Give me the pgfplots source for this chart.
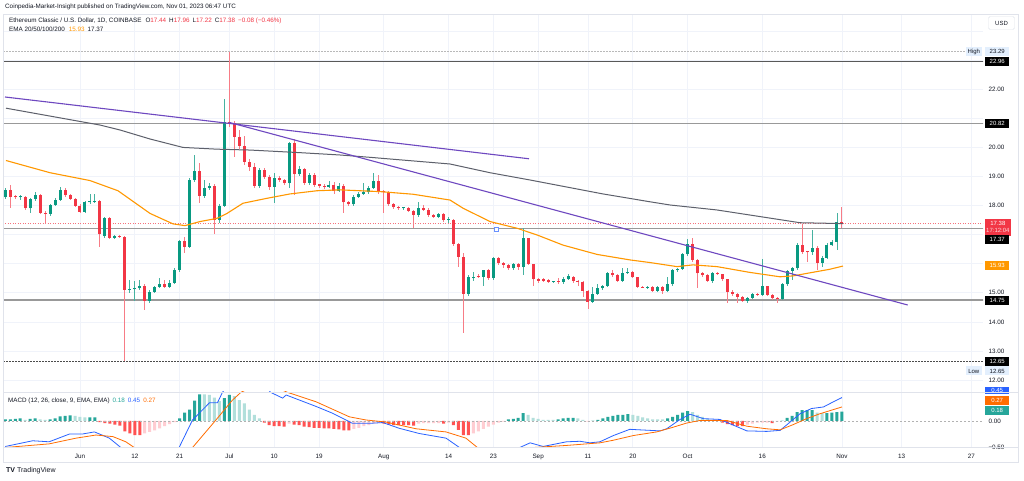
\documentclass[border=0pt]{standalone}
\usepackage{pgfplots}
\pgfplotsset{compat=1.18}
\usepackage{pgfplotstable}
\usepackage{fontspec}
\setmainfont{Liberation Sans}

\definecolor{upc}{HTML}{089981}
\definecolor{dnc}{HTML}{F23645}
\definecolor{hup}{HTML}{26A69A}
\definecolor{hupl}{HTML}{B2DFDB}
\definecolor{hdn}{HTML}{FF5252}
\definecolor{hdnl}{HTML}{FFCDD2}
\definecolor{macdblue}{HTML}{2962FF}
\definecolor{sigorange}{HTML}{FF6D00}
\definecolor{emaor}{HTML}{FF9800}
\definecolor{emagr}{HTML}{5D606B}
\definecolor{trend}{HTML}{6E48C0}
\definecolor{txt}{HTML}{131722}
\definecolor{gridc}{HTML}{F0F3FA}
\definecolor{framec}{HTML}{E0E3EB}
\definecolor{hlbg}{HTML}{E3EFFD}

% day index: 0 = 1 June 2023; rising candles (close >= open)
\pgfplotstableread{
d o h l c
-15 18.28 18.60 18.22 18.54
-12 18.28 18.36 18.20 18.31
-10 17.90 18.25 17.76 18.22
-9 18.22 18.45 18.15 18.36
-6 17.71 18.05 17.65 18.02
-5 18.02 18.25 17.98 18.19
-4 18.19 18.65 18.15 18.54
1 17.79 18.15 17.75 18.11
2 18.11 18.39 18.07 18.13
3 18.13 18.39 18.08 18.17
5 16.95 17.62 16.90 17.56
7 16.90 17.00 16.86 16.95
10 15.10 15.44 14.98 15.12
11 15.12 15.40 14.73 15.15
12 15.15 15.45 15.10 15.23
14 14.73 15.10 14.65 15.04
15 15.04 15.25 15.00 15.21
16 15.21 15.50 15.18 15.29
18 15.21 15.45 15.15 15.35
19 15.35 15.85 15.30 15.80
20 15.80 16.80 15.72 16.78
22 16.59 18.95 16.55 18.88
23 18.88 19.74 18.80 19.20
25 18.33 18.88 18.25 18.62
26 18.62 18.78 18.55 18.69
28 17.50 18.05 17.40 18.00
29 18.00 21.65 17.95 20.89
36 18.69 19.30 18.60 19.22
39 18.65 19.11 18.08 18.94
42 18.77 20.20 18.59 20.16
44 19.07 19.35 19.00 19.25
46 18.79 19.12 18.72 19.05
50 18.65 18.85 18.60 18.71
52 18.51 18.78 18.45 18.69
55 18.04 18.35 18.00 18.31
56 18.31 18.45 18.28 18.40
57 18.40 18.79 18.36 18.45
58 18.45 18.68 18.40 18.62
59 18.62 19.11 18.58 18.85
65 17.90 17.95 17.86 17.91
68 17.68 18.11 17.62 17.91
72 17.62 17.75 17.58 17.71
74 17.50 17.62 17.40 17.52
78 14.96 15.61 14.90 15.53
79 15.50 15.70 15.40 15.56
81 15.55 15.80 15.25 15.78
83 15.50 16.23 15.45 16.19
87 15.84 16.02 15.80 15.99
89 15.88 17.22 15.60 16.87
95 15.38 15.42 15.34 15.39
97 15.38 15.55 15.30 15.46
98 15.46 15.63 15.44 15.58
103 14.70 15.21 14.65 14.96
104 14.96 15.30 14.93 15.15
105 15.15 15.28 15.10 15.23
106 15.23 15.72 15.20 15.67
109 15.42 15.84 15.38 15.67
110 15.67 15.84 15.64 15.72
114 15.18 15.22 15.14 15.19
116 15.07 15.25 15.04 15.21
118 15.07 15.55 15.04 15.30
119 15.30 15.82 15.25 15.78
120 15.78 15.86 15.72 15.81
121 15.81 16.36 15.78 16.32
122 16.32 16.84 16.28 16.68
127 15.42 15.72 15.35 15.67
134 14.73 14.87 14.65 14.83
135 14.83 15.00 14.80 14.96
137 14.93 16.15 14.90 15.23
141 14.78 15.32 14.75 15.29
142 15.29 15.78 15.25 15.75
143 15.75 15.88 15.45 15.84
144 15.84 16.70 15.80 16.64
147 16.39 17.16 16.30 16.55
149 16.04 16.25 15.90 16.21
150 16.21 16.70 16.15 16.64
151 16.64 16.80 16.60 16.76
152 16.76 17.73 16.47 17.45
}\cdup

% falling candles (close < open)
\pgfplotstableread{
d o h l c
-14 18.54 18.71 17.90 18.31
-13 18.31 18.36 18.22 18.28
-11 18.31 18.34 17.85 17.90
-8 18.36 18.40 17.72 17.76
-7 17.76 17.80 17.37 17.71
-3 18.54 18.60 18.30 18.36
-2 18.36 18.40 18.18 18.23
-1 18.23 18.27 17.96 18.00
0 18.00 18.05 17.73 17.79
4 18.17 18.20 16.59 17.01
6 17.56 17.60 16.85 16.90
8 16.95 17.00 16.88 16.93
9 16.93 16.95 12.65 15.10
13 15.23 15.30 14.41 14.73
17 15.29 15.45 15.15 15.21
21 16.78 16.93 16.36 16.59
24 19.20 19.48 18.08 18.33
27 18.69 18.75 17.01 17.50
30 20.89 23.29 20.70 20.85
31 20.85 20.90 19.68 20.37
32 20.37 20.60 19.95 20.05
33 20.05 20.40 19.40 19.51
34 19.51 19.60 19.20 19.34
35 19.34 19.45 18.59 18.69
37 19.22 19.30 18.90 18.97
38 18.97 19.05 18.55 18.65
40 18.94 19.00 18.82 18.88
41 18.88 18.92 18.71 18.77
43 20.16 20.30 18.37 19.07
45 19.25 19.30 18.70 18.79
47 19.05 19.11 18.65 18.71
48 18.71 18.75 18.62 18.69
49 18.69 18.75 18.58 18.65
51 18.71 18.80 18.40 18.51
53 18.69 18.75 17.76 18.11
54 18.11 18.15 17.98 18.04
60 18.85 19.05 18.40 18.48
61 18.48 18.55 17.76 18.46
62 18.46 18.50 18.00 18.04
63 18.04 18.08 17.88 17.94
64 17.94 17.98 17.85 17.90
66 17.91 17.95 17.78 17.83
67 17.83 17.85 17.22 17.68
69 17.91 18.02 17.80 17.85
70 17.85 17.90 17.62 17.68
71 17.68 17.72 17.58 17.62
73 17.71 17.75 17.45 17.50
75 17.52 17.55 16.60 16.68
76 16.68 16.70 15.90 16.24
77 16.24 16.36 13.61 14.96
80 15.56 15.65 15.50 15.55
82 15.78 15.82 15.45 15.50
84 16.19 16.22 15.95 16.04
85 16.04 16.07 15.85 15.96
86 15.96 16.00 15.78 15.84
88 15.99 16.02 15.80 15.88
90 16.87 16.89 15.95 15.99
91 15.99 16.00 15.25 15.47
92 15.47 15.52 15.35 15.41
93 15.46 15.50 15.38 15.42
94 15.44 15.48 15.32 15.38
96 15.39 15.50 15.30 15.38
99 15.56 15.58 15.35 15.41
100 15.41 15.43 15.25 15.38
101 15.38 15.40 14.85 15.07
102 15.07 15.10 14.43 14.70
107 15.67 15.80 15.55 15.61
108 15.61 15.65 15.38 15.42
111 15.72 15.76 15.50 15.53
112 15.53 15.55 15.18 15.21
113 15.21 15.25 15.15 15.18
115 15.21 15.24 15.04 15.07
117 15.21 15.24 14.96 15.07
123 16.68 16.87 16.05 16.13
124 16.13 16.15 15.15 15.67
125 15.67 15.70 15.55 15.61
126 15.61 15.65 15.38 15.42
128 15.67 15.72 15.60 15.64
129 15.64 15.66 15.42 15.47
130 15.47 15.49 14.64 15.04
131 15.04 15.08 14.90 14.96
132 14.96 15.00 14.64 14.87
133 14.87 14.90 14.68 14.73
136 14.96 15.00 14.88 14.93
138 15.23 15.25 14.88 14.93
139 14.93 14.95 14.76 14.81
140 14.81 14.84 14.64 14.78
145 16.64 17.36 16.35 16.41
146 16.41 16.45 16.07 16.39
148 16.55 16.60 15.80 16.04
153 17.44 17.96 17.22 17.38
}\cddn

% MACD histogram: growing above zero, falling above zero, growing below zero, shrinking below zero
\pgfplotstableread{
d v
-15 0.03
-14 0.03
-13 0.04
-12 0.05
-10 0.04
-9 0.05
-6 0.03
-5 0.05
-4 0.09
-3 0.10
-2 0.11
2 0.07
3 0.07
20 0.05
21 0.16
22 0.22
23 0.39
24 0.51
29 0.44
30 0.50
86 0.03
87 0.04
88 0.06
89 0.15
96 0.03
97 0.05
98 0.06
99 0.06
104 0.02
105 0.05
106 0.08
107 0.10
108 0.12
109 0.12
110 0.13
118 0.05
119 0.08
120 0.12
121 0.16
122 0.19
142 0.06
143 0.10
144 0.17
145 0.21
146 0.21
147 0.21
150 0.15
151 0.16
152 0.17
153 0.18
}\hA
\pgfplotstableread{
d v
-11 0.02
-8 0.03
-7 0.02
-1 0.10
0 0.08
1 0.07
25 0.51
26 0.50
27 0.45
28 0.38
31 0.48
32 0.40
33 0.34
34 0.22
35 0.12
36 0.05
90 0.12
91 0.06
92 0.04
93 0.02
94 0.02
95 0.02
100 0.05
101 0.02
103 0.01
111 0.12
112 0.10
113 0.07
114 0.05
115 0.03
116 0.03
117 0.03
123 0.17
124 0.12
125 0.08
126 0.04
127 0.02
128 0.01
141 0.01
148 0.16
149 0.15
}\hB
\pgfplotstableread{
d v
4 -0.02
5 -0.04
6 -0.05
7 -0.07
8 -0.09
9 -0.20
10 -0.24
11 -0.27
12 -0.27
37 -0.03
38 -0.08
39 -0.10
40 -0.10
41 -0.11
43 -0.07
44 -0.08
45 -0.11
46 -0.12
47 -0.13
48 -0.13
49 -0.14
50 -0.14
51 -0.15
52 -0.16
53 -0.18
54 -0.18
61 -0.05
62 -0.07
63 -0.08
64 -0.08
65 -0.08
66 -0.08
67 -0.09
73 -0.05
75 -0.08
76 -0.17
77 -0.27
78 -0.27
129 -0.03
130 -0.06
131 -0.08
132 -0.10
133 -0.10
139 -0.04
}\hC
\pgfplotstableread{
d v
13 -0.24
14 -0.21
15 -0.18
16 -0.14
17 -0.10
18 -0.06
19 -0.02
42 -0.05
55 -0.15
56 -0.13
57 -0.10
58 -0.08
59 -0.05
60 -0.04
68 -0.05
69 -0.04
70 -0.04
71 -0.04
72 -0.04
74 -0.03
79 -0.24
80 -0.20
81 -0.15
82 -0.11
83 -0.07
84 -0.03
85 -0.01
102 -0.01
134 -0.07
135 -0.05
136 -0.03
137 -0.03
138 -0.03
140 -0.01
}\hD

\pgfplotsset{
  sticks/.style 2 args={only marks, mark size=0pt, mark options={draw=none, fill=none},
    error bars/y dir=both, error bars/y explicit, error bars/error mark=none,
    error bars/error bar style={draw=#1, line width=#2}},
  hbar/.style={ybar, bar width=3pt, bar shift=0pt, draw=none, fill=#1},
  tv/.style={
    scale only axis, width=979pt, clip mode=individual,
    xmin=-15.26, xmax=181.33,
    axis line style={draw=none}, major tick length=0pt,
    xtick={0,11,20,30,39,48,61,74,83,92,102,111,122,137,153,165,179},
    xmajorgrids, grid style={gridc, line width=0.6pt},
    yticklabel pos=right,
    ticklabel style={font=\fontsize{6.3}{7}\selectfont, text=txt},
    /pgf/number format/assume math mode=true,
  },
}
\tikzset{
  plabel/.style={anchor=west, font=\fontsize{6}{7}\selectfont, inner xsep=1pt, inner ysep=1pt,
    minimum width=24pt, minimum height=9pt, text=white, fill=black, xshift=2pt},
}

\begin{document}
\begin{tikzpicture}
\fill[white] (0,0) rectangle (1024pt,481pt);
\path[use as bounding box] (0,0) rectangle (1024pt,481pt);

% ---------------- price panel
\begin{axis}[tv, at={(4pt,89pt)}, anchor=south west, height=378pt,
  ymin=11.587, ymax=24.59,
  xticklabels={},
  ytick={12,13,...,24}, ymajorgrids,
  yticklabels={12.00,13.00,14.00,15.00,,,18.00,19.00,20.00,,22.00,,},
  yticklabel style={xshift=2pt},
]
% levels
\addplot[gray!55, dash pattern=on 1.5pt off 1.5pt, line width=0.6pt] coordinates {(-16,23.29) (177.9,23.29)};
\addplot[black!65, line width=0.9pt] coordinates {(-16,22.96) (182,22.96)};
\addplot[black!40, line width=1.6pt] coordinates {(-16,20.82) (182,20.82)};
\addplot[black!40, line width=1.6pt] coordinates {(-16,17.21) (182,17.21)};
\addplot[black!40, line width=1.6pt] coordinates {(-16,14.75) (182,14.75)};
\addplot[black!70, dash pattern=on 2pt off 1pt, line width=0.8pt] coordinates {(-16,12.65) (182,12.65)};
\addplot[dnc!70, dash pattern=on 1pt off 1.5pt, line width=0.6pt] coordinates {(-16,17.38) (182,17.38)};

% candles: wicks, then bodies
\addplot[sticks={upc!75}{0.9pt}] table[x=d, y=o, y error plus expr=\thisrow{h}-\thisrow{o}, y error minus expr=\thisrow{o}-\thisrow{l}] {\cdup};
\addplot[sticks={dnc!65}{0.9pt}] table[x=d, y=o, y error plus expr=\thisrow{h}-\thisrow{o}, y error minus expr=\thisrow{o}-\thisrow{l}] {\cddn};
\addplot[sticks={upc}{3pt}] table[x=d, y=o, y error plus expr={max(\thisrow{c}-\thisrow{o},0.035)}, y error minus expr=0] {\cdup};
\addplot[sticks={dnc}{3pt}] table[x=d, y=c, y error plus expr={max(\thisrow{o}-\thisrow{c},0.035)}, y error minus expr=0] {\cddn};

% EMA 200
\addplot[emagr, line width=1pt] coordinates {
(-14.86,21.35) (4.02,20.77) (8.03,20.60) (14.06,20.29) (20.68,20.00) (27.51,19.94)
(34.14,19.91) (44.18,19.82) (52.21,19.74) (58.23,19.66) (74.30,19.43) (82.33,19.13)
(90.36,18.88) (105.02,18.40) (114.46,18.13) (118.47,18.02) (127.85,17.85) (141.16,17.50)
(144.58,17.41) (153.2,17.38)};
% EMA 50
\addplot[emaor, line width=1.1pt] coordinates {
(-14.86,19.55) (-6.02,19.13) (2.01,18.86) (7.63,18.51) (14.06,17.73) (18.67,17.37)
(21.08,17.31) (24.10,17.45) (27.51,17.56) (29.52,17.73) (32.73,18.08) (37.55,18.25)
(42.17,18.40) (47.59,18.51) (52.21,18.54) (60.24,18.48) (66.87,18.39) (74.30,18.19)
(76.91,17.91) (82.33,17.45) (87.75,17.22) (91.77,16.99) (96.99,16.64) (103.82,16.32)
(110.44,16.13) (114.46,16.04) (119.88,15.90) (123.09,15.96) (127.91,15.90) (134.54,15.70)
(140.56,15.55) (143.17,15.58) (147.99,15.73) (150.60,15.81) (153.21,15.92)};

% trend lines
\addplot[trend, line width=1.1pt] coordinates {(-15.06,21.735) (90.16,19.61)};
\addplot[trend, line width=1.1pt] coordinates {(29.98,20.86) (166.2,14.58)};
\addplot[only marks, mark=square*, mark size=2pt, mark options={fill=white, draw=macdblue!70, line width=0.6pt}] coordinates {(83.5,17.19)};

% price scale labels
\node[plabel, anchor=east, fill=hlbg, text=txt, minimum width=16pt, xshift=-3pt] at (axis cs:181.33,23.29) {High};
\node[plabel, fill=hlbg, text=txt] at (axis cs:181.33,23.29) {23.29};
\node[plabel] at (axis cs:181.33,22.96) {22.96};
\node[plabel] at (axis cs:181.33,20.82) {20.82};
\node[plabel, fill=dnc, align=center, minimum height=17pt] at (axis cs:181.33,17.25) {17.38\\{\color{white!80!dnc}17:12:04}};
\node[plabel] at (axis cs:181.33,16.82) {17.37};
\node[plabel, fill=emaor] at (axis cs:181.33,15.93) {15.93};
\node[plabel] at (axis cs:181.33,14.75) {14.75};
\node[plabel] at (axis cs:181.33,12.65) {12.65};
\node[plabel, anchor=east, fill=hlbg, text=txt, minimum width=16pt, xshift=-3pt] at (axis cs:181.33,12.31) {Low};
\node[plabel, fill=hlbg, text=txt] at (axis cs:181.33,12.31) {12.65};
\end{axis}

% ---------------- MACD panel
\begin{axis}[tv, at={(4pt,34pt)}, anchor=south west, height=55pt,
  ymin=-0.5, ymax=0.5577,
  xticklabels={Jun,12,21,Jul,10,19,Aug,14,23,Sep,11,20,Oct,16,Nov,13,27},
  xticklabel style={yshift=-3.5pt},
  ytick={-0.5,0}, yticklabels={−0.50,0.00},
  yticklabel style={xshift=2pt},
]
\addplot[hbar=hup] table[x=d, y=v] {\hA};
\addplot[hbar=hupl] table[x=d, y=v] {\hB};
\addplot[hbar=hdn] table[x=d, y=v] {\hC};
\addplot[hbar=hdnl] table[x=d, y=v] {\hD};
\addplot[black!30, dash pattern=on 2pt off 2pt, line width=0.5pt] coordinates {(-16,0) (182,0)};
% MACD line
\addplot[macdblue, line width=0.8pt] coordinates {
(-15,-0.49) (-9.5,-0.38) (-6.2,-0.40) (-2.1,-0.25) (0.5,-0.25) (2.9,-0.21) (5.9,-0.33)
(8.2,-0.51) (10,-0.68) (13,-0.82) (16,-0.78) (19.9,-0.51) (22.6,0.02) (26,0.35) (27.6,0.35)
(28.6,0.55) (31,0.85) (33,0.95) (35,0.90) (38.3,0.55) (40.7,0.44) (41.4,0.50) (47.4,0.28)
(50.7,0.15) (53.4,0.02) (54.7,-0.045) (58.1,-0.045) (60.8,-0.03) (64.1,-0.14) (68.1,-0.24)
(73.5,-0.33) (76.2,-0.51) (79,-0.75) (82,-0.82) (85,-0.70) (88.3,-0.51) (90.4,-0.42)
(93,-0.49) (97.7,-0.40) (100.4,-0.39) (102.4,-0.42) (104.4,-0.40) (107.1,-0.28) (110.4,-0.16)
(112.4,-0.17) (116.5,-0.19) (117.8,-0.15) (120.5,0.03) (122.5,0.13) (125.2,0.045) (128.5,0.03)
(131.2,-0.08) (133.9,-0.19) (137.9,-0.20) (140.6,-0.18) (142.6,-0.02) (144.6,0.14) (146.9,0.24)
(149.3,0.27) (151.3,0.37) (153,0.45)};
% signal line
\addplot[sigorange, line width=0.8pt] coordinates {
(-15,-0.51) (-6.2,-0.44) (-0.8,-0.33) (3.2,-0.27) (6.6,-0.30) (9.2,-0.40) (10.9,-0.51)
(14,-0.65) (17,-0.70) (20,-0.62) (22.6,-0.51) (27.3,0.02) (30.6,0.40) (32.3,0.55) (35,0.68)
(38,0.70) (41.7,0.55) (47.4,0.37) (54.1,0.08) (57.4,0.02) (61.4,-0.02) (67.5,-0.15) (73.5,-0.21)
(77.5,-0.33) (79.8,-0.51) (84,-0.62) (88,-0.60) (91,-0.51) (97.7,-0.47) (104.4,-0.42)
(107.1,-0.37) (111.1,-0.28) (115.8,-0.21) (119.1,-0.12) (121.8,-0.04) (124.5,0.01) (129.9,0.01)
(133.9,-0.10) (137.9,-0.15) (140.6,-0.17) (143.2,-0.07) (145.9,0.045) (148.6,0.14) (151.3,0.22)
(153,0.27)};
\node[plabel, fill=macdblue, minimum height=7pt] at (axis cs:181.33,0.58) {0.45};
\node[plabel, fill=sigorange] at (axis cs:181.33,0.40) {0.27};
\node[plabel, fill=hup] at (axis cs:181.33,0.21) {0.18};
\end{axis}

% frame and panel separators
\draw[framec, line width=0.6pt] (3pt,19pt) rectangle (1018pt,467pt);
\draw[framec, line width=0.6pt] (3pt,89pt) -- (1018pt,89pt);
\draw[framec, line width=0.6pt] (3pt,34pt) -- (1018pt,34pt);

% texts
\begin{scope}[every node/.style={anchor=west, inner sep=0pt, text=txt, font=\fontsize{6.3}{7}\selectfont}]
\node at (5pt,474pt) {Coinpedia-Market-Insight published on TradingView.com, Nov 01, 2023 06:47 UTC};
\node at (9pt,460pt) {Ethereum Classic / U.S. Dollar, 1D, COINBASE\hspace{4pt}O{\color{dnc}17.44}\hspace{3pt}H{\color{dnc}17.96}\hspace{3pt}L{\color{dnc}17.22}\hspace{3pt}C{\color{dnc}17.38}\hspace{3pt}{\color{dnc}−0.08 (−0.46\%)}};
\node at (9pt,452pt) {EMA 20/50/100/200\hspace{4pt}{\color{emaor}15.93}\hspace{3pt}17.37};
\node at (8pt,80.5pt) {MACD (12, 26, close, 9, EMA, EMA)\hspace{3pt}{\color{hup}0.18}\hspace{3pt}{\color{macdblue}0.45}\hspace{3pt}{\color{sigorange}0.27}};
\node[font=\fontsize{7}{8}\selectfont] at (6pt,10pt) {\textbf{TV}\hspace{2pt}TradingView};
\end{scope}
\node[draw=framec, rounded corners=1.5pt, minimum width=26pt, minimum height=13pt, inner sep=0pt, text=txt, font=\fontsize{6}{7}\selectfont] at (1001.5pt,458pt) {USD};
\end{tikzpicture}
\end{document}
